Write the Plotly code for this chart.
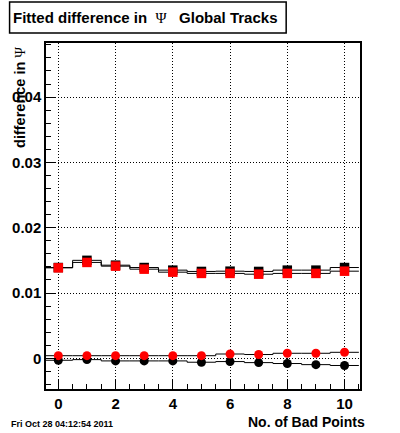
import numpy as np
import plotly.graph_objects as go

# ---- data ----
bad_points = [0, 1, 2, 3, 4, 5, 6, 7, 8, 9, 10]
black_squares = [0.0139, 0.0150, 0.01426, 0.0139, 0.0135, 0.0133, 0.01334, 0.0133, 0.0135, 0.0135, 0.0139]
red_squares = [0.01385, 0.01468, 0.01411, 0.01365, 0.01319, 0.0130, 0.0130, 0.01288, 0.0130, 0.0130, 0.01334]
black_circles = [-0.0003, -0.0002, -0.0004, -0.0004, -0.0004, -0.0006, -0.0005, -0.00066, -0.0008, -0.00097, -0.0011]
red_circles = [0.0004, 0.0004, 0.0004, 0.0004, 0.0004, 0.0004, 0.00066, 0.00058, 0.00077, 0.00077, 0.00092]
x_ticks = [0, 2, 4, 6, 8, 10]
y_ticks = [0, 0.01, 0.02, 0.03, 0.04]
y_tick_labels = ["0", "0.01", "0.02", "0.03", "0.04"]

FONT = "Liberation Sans"
PSI = "<span style=\"font-family:'Liberation Serif';font-weight:normal\">Ψ</span>"

# plot area in pixels
L, R, T, B = 41, 360, 43, 389
W, H = 400, 433
pw, ph = R - L, B - T


def px(x):
    return (x - L) / pw


def py(y):
    return (B - y) / ph


fig = go.Figure()

x_arr = np.array(bad_points, dtype=float)
edges = np.concatenate([x_arr - 0.5, [x_arr[-1] + 0.5]])

series = [
    (black_squares, "black", "square"),
    (red_squares, "red", "square"),
    (black_circles, "black", "circle"),
    (red_circles, "red", "circle"),
]

# histogram step outlines (black)
for vals, col, sym in series:
    yv = list(vals) + [vals[-1]]
    fig.add_trace(go.Scatter(x=edges, y=yv, mode="lines", line=dict(color="black", width=1, shape="hv"),
                             showlegend=False, hoverinfo="skip"))

# markers
for vals, col, sym in series:
    fig.add_trace(go.Scatter(x=bad_points, y=vals, mode="markers",
                             marker=dict(color=col, symbol=sym, size=9.5 if sym == "square" else 9,
                                         line=dict(width=0)),
                             showlegend=False))

axis_common = dict(
    showline=True, linecolor="black", linewidth=1.5, mirror=True,
    ticks="inside", tickcolor="black", tickwidth=1,
    showgrid=True, gridcolor="black", gridwidth=1, griddash="1px,2px",
    zeroline=False,
    tickfont=dict(family=FONT, size=15, color="black", weight="bold"),
)

fig.update_xaxes(
    range=[-0.43, 10.54], tickvals=x_ticks, ticklen=10,
    minor=dict(dtick=0.5, tick0=0, ticklen=5, ticks="inside", tickcolor="black", showgrid=False),
    **axis_common,
)
fig.update_yaxes(
    range=[-0.0047, 0.04828], tickvals=y_ticks, ticktext=y_tick_labels, ticklen=10,
    minor=dict(dtick=0.002, tick0=0, ticklen=5, ticks="inside", tickcolor="black", showgrid=False),
    **axis_common,
)

annotations = [
    dict(text="Fitted difference in  " + PSI + "   Global Tracks", x=px(141.5), y=py(18),
         xanchor="center", yanchor="middle", font=dict(family=FONT, size=15, color="black", weight="bold")),
    dict(text="No. of Bad Points", x=px(367), y=py(422), xanchor="right", yanchor="middle",
         font=dict(family=FONT, size=14, color="black", weight="bold")),
    dict(text="difference in " + PSI, x=px(14), y=py(45), xanchor="center", yanchor="top", textangle=-90,
         font=dict(family=FONT, size=14.5, color="black", weight="bold")),
    dict(text="Fri Oct 28 04:12:54 2011", x=px(3), y=py(424), xanchor="left", yanchor="middle",
         font=dict(family=FONT, size=9, color="black", weight="bold")),
]
for a in annotations:
    a.update(xref="paper", yref="paper", showarrow=False)

fig.update_layout(
    width=W, height=H,
    margin=dict(l=L, r=W - R, t=T, b=H - B, pad=0),
    paper_bgcolor="white", plot_bgcolor="white",
    annotations=annotations,
    shapes=[dict(type="rect", xref="paper", yref="paper", x0=px(4), x1=px(285), y0=py(33), y1=py(2),
                 line=dict(color="black", width=1.5), fillcolor="white", layer="above")],
    showlegend=False,
)
fig.write_html("out.html", config={"displayModeBar": False},
               post_script="document.body.style.margin='0';document.body.style.padding='0';")
